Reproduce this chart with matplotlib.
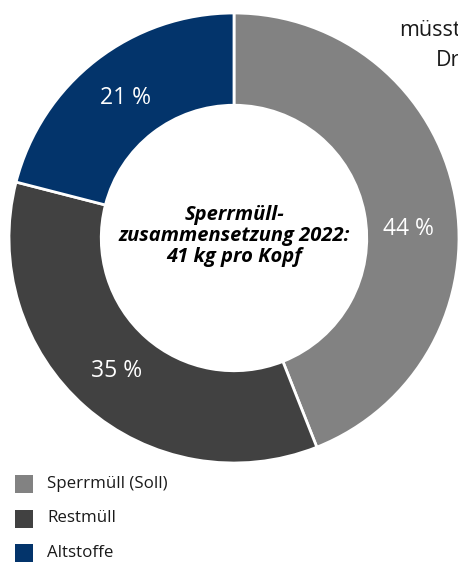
import matplotlib
matplotlib.use('Agg')
import numpy as np
import matplotlib.pyplot as plt
from matplotlib.patches import Rectangle

# Daten
categories = ['Sperrmüll (Soll)', 'Restmüll', 'Altstoffe']
shares = [44, 35, 21]
colors = ['#828282', '#414141', '#03346b']
center_title = 'Sperrmüll-\nzusammensetzung 2022:\n41 kg pro Kopf'

plt.rcParams['font.family'] = ['Open Sans', 'DejaVu Sans']

W, H = 458, 562
fig = plt.figure(figsize=(W / 100, H / 100), dpi=100)
ax = fig.add_axes([0, 0, 1, 1])
ax.set_xlim(0, W)
ax.set_ylim(0, H)
ax.set_aspect('equal')
ax.axis('off')

cx, cy, r = 234, H - 238, 225

# Fließtext im Hintergrund (teilweise vom Diagramm verdeckt)
ax.text(399, H - 30, 'müsst', fontsize=15.5, color='#1a1a1a', va='center', zorder=0)
ax.text(436, H - 61, 'Dr', fontsize=15.5, color='#1a1a1a', va='center', zorder=0)

wedges, texts = ax.pie(shares, colors=colors, startangle=90, counterclock=False,
                       radius=r, center=(cx, cy),
                       wedgeprops=dict(width=r * 0.41, edgecolor='white', linewidth=2),
                       labels=[f'{s} %' for s in shares], labeldistance=0.79,
                       textprops=dict(color='white', fontsize=16.5, ha='center', va='center'))
for w in wedges:
    w.set_zorder(2)
for t in texts:
    t.set_zorder(3)

# 44-%-Beschriftung sitzt im Original etwas tiefer im Segment
ang = np.deg2rad(3)
texts[0].set_position((cx + 0.775 * r * np.cos(ang), cy + 0.775 * r * np.sin(ang)))

ax.set_xlim(0, W)
ax.set_ylim(0, H)

ax.text(cx, cy + 2, center_title, ha='center', va='center', fontsize=14.5,
        fontweight='bold', fontstyle='italic', linespacing=1.08, color='black', zorder=4)

# Legende
for i, (cat, col) in enumerate(zip(categories, colors)):
    y = H - 484 - i * 34.5
    ax.add_patch(Rectangle((15, y - 9), 18, 18, facecolor=col, edgecolor='none'))
    ax.text(47, y, cat, fontsize=12.2, va='center', color='#1a1a1a')

fig.savefig('out.png', dpi=100)
